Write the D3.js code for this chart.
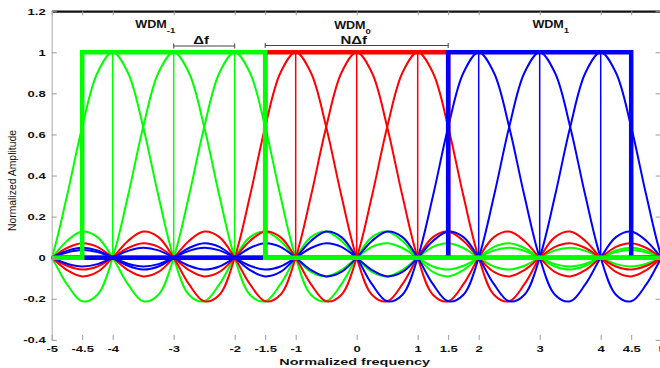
<!DOCTYPE html>
<html>
<head>
<meta charset="utf-8">
<script src="https://cdn.jsdelivr.net/npm/d3@7"></script>
<style>
  html, body { margin: 0; padding: 0; background: #fff; }
  svg { display: block; font-family: "Liberation Sans", Arial, sans-serif; }
</style>
</head>
<body>
<svg id="chart" width="660" height="368"></svg>
<script>
// ---- data ----
const bandNames = ['WDM', 'WDM', 'WDM'];
const bandSubs = ['-1', '0', '1'];
const bandColors = ['#00ff00', '#ff0000', '#0000ff'];
const bandEdges = [[-4.5, -1.5], [-1.5, 1.5], [1.5, 4.5]];
const subcarrierCenters = [[-4, -3, -2], [-1, 0, 1], [2, 3, 4]];

// one pulse, sampled every 0.25 from its centre outwards (it is symmetric)
const pulseStep = 0.25;
const pulseShape = [
  1, 0.90032, 0.63662, 0.30011, 0,
  -0.18006, -0.21221, -0.12862, 0,
  0.10004, 0.12732, 0.08185, 0,
  -0.06926, -0.09095, -0.06002, 0,
  0.05296, 0.07074, 0.04739, 0,
  -0.04287, -0.05787, -0.03914, 0,
  0.03601, 0.04897, 0.03335, 0,
  -0.03105, -0.04244, -0.02904, 0,
  0.02728, 0.03745, 0.02572, 0
];

const xTicks = [-5, -4.5, -4, -3, -2, -1.5, -1, 0, 1, 1.5, 2, 3, 4, 4.5, 5];
const yTicks = [-0.4, -0.2, 0, 0.2, 0.4, 0.6, 0.8, 1, 1.2];
const xLabel = 'Normalized frequency';
const yLabel = 'Normalized Amplitude';
const spacingLabel = '\u0394f';
const bandwidthLabel = 'N\u0394f';
const spacingSpan = [-3, -2];
const bandwidthSpan = [-1.5, 1.5];

// ---- layout ----
const svg = d3.select('#chart');
const pL = 51.7, pR = 661.7, pT = 11.2, pB = 339.9;
const x = d3.scaleLinear().domain([-5, 5]).range([pL, pR]);
const y = d3.scaleLinear().domain([-0.4, 1.2]).range([pB, pT]);
const TK = 1.45; // horizontal stretch of the text in the picture

svg.append('defs').append('clipPath').attr('id', 'plot')
  .append('rect')
  .attr('x', pL).attr('y', pT)
  .attr('width', pR - pL).attr('height', pB - pT);

const plot = svg.append('g').attr('clip-path', 'url(#plot)');

const line = d3.line()
  .x(d => x(d[0]))
  .y(d => y(d[1]))
  .curve(d3.curveCatmullRom);

// pulses
const n = pulseShape.length - 1;
bandColors.forEach((color, b) => {
  subcarrierCenters[b].forEach(c => {
    const pts = d3.range(-n, n + 1)
      .map(k => [c + k * pulseStep, pulseShape[Math.abs(k)]])
      .filter(p => p[0] >= -5.6 && p[0] <= 5.6);
    plot.append('path')
      .attr('d', line(pts))
      .attr('fill', 'none')
      .attr('stroke', color)
      .attr('stroke-width', 2);
  });
});

// centre markers
bandColors.forEach((color, b) => {
  plot.selectAll(null)
    .data(subcarrierCenters[b])
    .enter()
    .append('line')
    .attr('x1', d => x(d)).attr('x2', d => x(d))
    .attr('y1', y(0)).attr('y2', y(1))
    .attr('stroke', color)
    .attr('stroke-width', 1.5);
});

// WDM band rectangles (red, blue, then green on top)
const rectLine = d3.line().x(d => x(d[0])).y(d => y(d[1]));
[1, 2, 0].forEach(b => {
  const [a, e] = bandEdges[b];
  plot.append('path')
    .attr('d', rectLine([[-5, 0], [a, 0], [a, 1], [e, 1], [e, 0], [5, 0]]))
    .attr('fill', 'none')
    .attr('stroke', bandColors[b])
    .attr('stroke-width', 4.5)
    .attr('stroke-linejoin', 'miter');
});

// ---- axes ----
const fmt = d => String(d);

const xAxis = svg.append('g')
  .attr('transform', `translate(0,${pB})`)
  .call(d3.axisBottom(x).tickValues(xTicks).tickFormat(fmt).tickSize(-5).tickSizeOuter(0).tickPadding(6));
xAxis.select('.domain').remove();

svg.append('g')
  .attr('transform', `translate(0,${pT})`)
  .call(d3.axisTop(x).tickValues(xTicks).tickFormat('').tickSize(-4).tickSizeOuter(0))
  .select('.domain').attr('stroke', '#111').attr('stroke-width', 2.2);

const yAxis = svg.append('g')
  .attr('transform', `translate(${pL},0)`)
  .call(d3.axisLeft(y).tickValues(yTicks).tickFormat(fmt).tickSize(-5).tickSizeOuter(0).tickPadding(6));
yAxis.select('.domain').attr('stroke', '#aaa');

svg.append('g')
  .attr('transform', `translate(${pR},0)`)
  .call(d3.axisRight(y).tickValues(yTicks).tickFormat('').tickSize(-6).tickSizeOuter(0))
  .select('.domain').remove();

svg.selectAll('.tick line').attr('stroke', '#999');

// stretched tick labels
svg.selectAll('.tick text')
  .attr('fill', '#111')
  .style('font-family', '"Liberation Sans", Arial, sans-serif')
  .style('font-size', '9px')
  .style('font-weight', 'bold');
xAxis.selectAll('.tick text').attr('transform', `scale(${TK},1)`)
  .attr('x', 0);
yAxis.selectAll('.tick text').attr('transform', `scale(${TK},1)`)
  .attr('x', -6 / TK);

// axis titles
svg.append('text')
  .attr('transform', `translate(${(pL + pR) / 2 - 2},365) scale(1.52,1)`)
  .attr('text-anchor', 'middle')
  .style('font-size', '9.5px')
  .style('font-weight', 'bold')
  .attr('fill', '#111')
  .text(xLabel);

svg.append('text')
  .attr('transform', `translate(16,${(pT + pB) / 2 + 5}) rotate(-90)`)
  .attr('text-anchor', 'middle')
  .style('font-size', '10.4px')
  .attr('fill', '#111')
  .text(yLabel);

// ---- annotations ----
const wdmLabelX = [-3.63, -0.37, 2.88];
bandNames.forEach((name, b) => {
  const t = svg.append('text')
    .attr('transform', `translate(${x(wdmLabelX[b])},${b === 1 ? 29 : 28.3}) scale(1.2,1)`)
    .style('font-size', '10.5px')
    .style('font-weight', 'bold')
    .attr('fill', '#111');
  t.append('tspan').text(name);
  t.append('tspan').attr('dy', 4.5).style('font-size', '8px').text(bandSubs[b]);
});

function bracket(span, label, by) {
  const g = svg.append('g').attr('stroke', '#444').attr('stroke-width', 1);
  g.append('line').attr('x1', x(span[0])).attr('x2', x(span[1])).attr('y1', by).attr('y2', by);
  span.forEach(v => g.append('line')
    .attr('x1', x(v)).attr('x2', x(v)).attr('y1', by - 2.5).attr('y2', by + 2.5));
  svg.append('text')
    .attr('transform', `translate(${x((span[0] + span[1]) / 2) - 3},${by - 2}) scale(1.5,1)`)
    .attr('text-anchor', 'middle')
    .style('font-size', '10px')
    .style('font-weight', 'bold')
    .attr('fill', '#111')
    .text(label);
}
bracket(spacingSpan, spacingLabel, 46);
bracket(bandwidthSpan, bandwidthLabel, 45.5);
</script>
</body>
</html>
